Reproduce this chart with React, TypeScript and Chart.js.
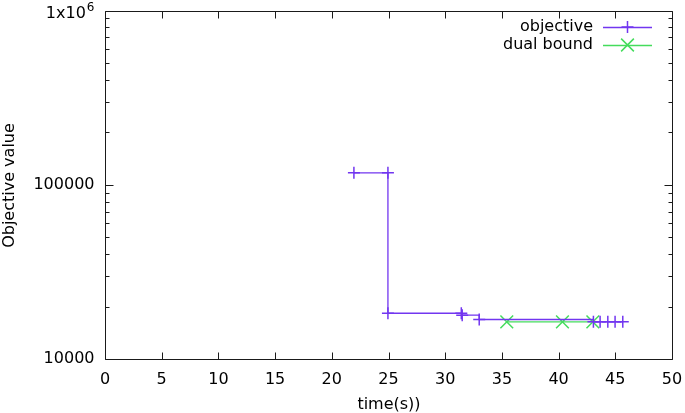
import React, { useEffect, useRef } from 'react';
import { Chart, registerables } from 'chart.js';

Chart.register(...registerables);

const objectiveTime = [21.95, 24.95, 24.95, 31.42, 31.5, 33.0, 43.07, 43.66, 44.34, 44.98, 45.66];
const objectiveValue = [117100, 117100, 18300, 18300, 17850, 16850, 16340, 16340, 16340, 16340, 16340];
const dualTime = [35.43, 40.34, 43.02];
const dualValue = [16340, 16340, 16340];
const xTickValues = [0, 5, 10, 15, 20, 25, 30, 35, 40, 45, 50];
const yTickValues = [10000, 100000, 1000000];
const yTickLabels = ['10000', '100000', '1x10^6'];
const seriesLabels = ['objective', 'dual bound'];
const xTitle = 'time(s))';
const yTitle = 'Objective value';

const PURPLE = '#7236f0';
const GREEN = '#44dc5c';
const FONT = '"DejaVu Sans", sans-serif';
const FS = 16;

const framePlugin = {
  id: 'gnuplotFrame',
  afterDraw(chart: any) {
    const ctx = chart.ctx as CanvasRenderingContext2D;
    const { left, right, top, bottom } = chart.chartArea;
    const xs = chart.scales.x;
    const ys = chart.scales.y;
    ctx.save();
    ctx.strokeStyle = '#1a1a1a';
    ctx.lineWidth = 1;
    const L = Math.round(left) + 0.5;
    const R = Math.round(right) + 0.5;
    const T = Math.round(top) + 0.5;
    const B = Math.round(bottom) + 0.5;
    ctx.beginPath();
    ctx.rect(L, T, R - L, B - T);
    ctx.stroke();
    ctx.beginPath();
    for (const v of xTickValues) {
      const px = Math.round(xs.getPixelForValue(v)) + 0.5;
      ctx.moveTo(px, B);
      ctx.lineTo(px, B - 7);
      ctx.moveTo(px, T);
      ctx.lineTo(px, T + 7);
    }
    for (const v of yTickValues) {
      const py = Math.round(ys.getPixelForValue(v)) + 0.5;
      ctx.moveTo(L, py);
      ctx.lineTo(L + 8, py);
      ctx.moveTo(R, py);
      ctx.lineTo(R - 8, py);
    }
    for (let i = 0; i < yTickValues.length - 1; i++) {
      for (let m = 2; m <= 9; m++) {
        const py = Math.round(ys.getPixelForValue(m * yTickValues[i])) + 0.5;
        ctx.moveTo(L, py);
        ctx.lineTo(L + 4, py);
        ctx.moveTo(R, py);
        ctx.lineTo(R - 4, py);
      }
    }
    ctx.stroke();

    ctx.fillStyle = '#000';
    ctx.font = `${FS}px ${FONT}`;
    ctx.textBaseline = 'middle';
    ctx.textAlign = 'center';
    for (const v of xTickValues) {
      ctx.fillText(String(v), xs.getPixelForValue(v), B + 20);
    }
    ctx.textAlign = 'right';
    yTickValues.forEach((v, i) => {
      const py = ys.getPixelForValue(v);
      const label = yTickLabels[i];
      const parts = label.split('^');
      const rx = L - 11;
      if (parts.length === 2) {
        ctx.font = `12px ${FONT}`;
        const supW = ctx.measureText(parts[1]).width;
        ctx.fillText(parts[1], rx, Math.max(py - 3, 6));
        ctx.font = `${FS}px ${FONT}`;
        ctx.fillText(parts[0], rx - supW - 1, Math.max(py, 3) + 3);
      } else {
        ctx.fillText(label, rx, py);
      }
    });
    ctx.textAlign = 'center';
    ctx.fillText(xTitle, (L + R) / 2, 405);
    ctx.save();
    ctx.translate(10, (T + B) / 2);
    ctx.rotate(-Math.PI / 2);
    ctx.fillText(yTitle, 0, 0);
    ctx.restore();

    const colors = [PURPLE, GREEN];
    const styles = ['cross', 'crossRot'];
    const radii = [6, 9];
    seriesLabels.forEach((lab, i) => {
      const y = 27 + i * 18;
      ctx.fillStyle = '#000';
      ctx.textAlign = 'right';
      ctx.font = `${FS}px ${FONT}`;
      ctx.fillText(lab, 593, y);
      ctx.strokeStyle = colors[i];
      ctx.lineWidth = 1.3;
      ctx.beginPath();
      ctx.moveTo(603, y + 0.5);
      ctx.lineTo(652, y + 0.5);
      ctx.stroke();
      ctx.lineWidth = 1.5;
      const cx = 627.5;
      const r = radii[i];
      ctx.beginPath();
      if (styles[i] === 'cross') {
        ctx.moveTo(cx, y - r);
        ctx.lineTo(cx, y + r);
        ctx.moveTo(cx - r, y);
        ctx.lineTo(cx + r, y);
      } else {
        const d = r * Math.SQRT1_2;
        ctx.moveTo(cx - d, y - d);
        ctx.lineTo(cx + d, y + d);
        ctx.moveTo(cx - d, y + d);
        ctx.lineTo(cx + d, y - d);
      }
      ctx.stroke();
    });
    ctx.restore();
  },
};

export default function App() {
  const ref = useRef<HTMLCanvasElement | null>(null);
  useEffect(() => {
    document.body.style.margin = '0';
    const canvas = ref.current;
    if (!canvas) return;
    const objData = objectiveTime.map((t, i) => ({ x: t, y: objectiveValue[i] }));
    const dualData = dualTime.map((t, i) => ({ x: t, y: dualValue[i] }));
    const chart = new Chart(canvas, {
      type: 'line',
      data: {
        datasets: [
          {
            label: seriesLabels[0],
            data: objData,
            borderColor: PURPLE,
            backgroundColor: PURPLE,
            borderWidth: 1.3,
            stepped: 'before',
            pointStyle: 'cross',
            pointRadius: 6,
            pointBorderWidth: 1.5,
            pointBorderColor: PURPLE,
            fill: false,
          },
          {
            label: seriesLabels[1],
            data: dualData,
            borderColor: GREEN,
            backgroundColor: GREEN,
            borderWidth: 1.3,
            stepped: 'before',
            pointStyle: 'crossRot',
            pointRadius: 9,
            pointBorderWidth: 1.5,
            pointBorderColor: GREEN,
            fill: false,
          },
        ],
      },
      options: {
        responsive: false,
        animation: false,
        events: [],
        layout: { padding: { top: 9, right: 13, left: 0, bottom: 0 } },
        plugins: { legend: { display: false }, tooltip: { enabled: false } },
        scales: {
          x: {
            type: 'linear',
            min: 0,
            max: 50,
            grid: { display: false, drawTicks: false },
            border: { display: false },
            ticks: { display: false },
            afterFit: (s: any) => {
              s.height = 54;
            },
          },
          y: {
            type: 'logarithmic',
            min: 10000,
            max: 1000000,
            grid: { display: false, drawTicks: false },
            border: { display: false },
            ticks: { display: false },
            afterFit: (s: any) => {
              s.width = 105;
            },
          },
        },
      },
      plugins: [framePlugin],
    } as any);
    return () => chart.destroy();
  }, []);
  return (
    <canvas
      ref={ref}
      width={685}
      height={413}
      style={{ display: 'block', width: 685, height: 413 }}
    />
  );
}
